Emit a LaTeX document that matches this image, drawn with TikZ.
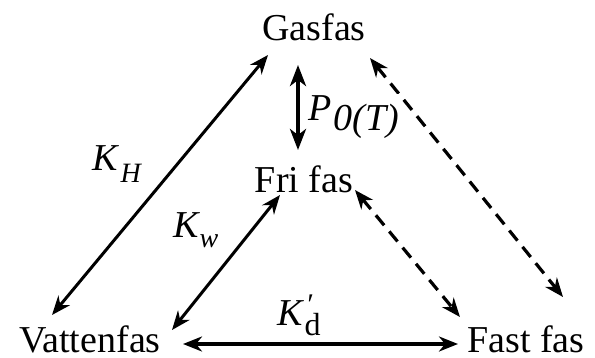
\documentclass[tikz,border=0pt]{standalone}
\usepackage{fontspec}
\setmainfont{Liberation Serif}
\usetikzlibrary{arrows.meta}
\begin{document}
\begin{tikzpicture}[x=1pt,y=-1pt,
  phase/.style={font=\fontsize{38}{40}\selectfont, inner sep=0pt, anchor=base},
  lbl/.style={font=\fontsize{38}{40}\selectfont\itshape, inner sep=0pt, anchor=base west},
  tipA/.tip={Stealth[length=19pt,width=15pt,inset=6pt]},
  tipB/.tip={Stealth[length=21pt,width=16pt,inset=6pt]},
  link/.style={line width=3pt, tipA-tipA},
  hlink/.style={line width=3.8pt, tipA-tipA},
  dlink/.style={line width=3.2pt, tipA-tipA, dash pattern=on 13pt off 8pt},
  vlink/.style={line width=4.2pt, tipB-tipB}
]
\useasboundingbox (0,0) rectangle (595,357);
% phases
\node[phase] (G) at (314,40) {Gasfas};
\node[phase] (F) at (304,192) {Fri fas};
\node[phase] (V) at (90,352) {Vattenfas};
\node[phase] (S) at (526,352) {Fast fas};
% connectors
\draw[link] ([xshift=-38pt,yshift=37pt]V.base) -- ([xshift=-46pt,yshift=-15pt]G.base);
\draw[vlink] ([xshift=-16pt,yshift=-25pt]G.base) -- ([xshift=-6pt,yshift=42pt]F.base);
\draw[link] ([xshift=82pt,yshift=22pt]V.base) -- ([xshift=-24pt,yshift=-3pt]F.base);
\draw[hlink] ([xshift=93pt,yshift=8pt]V.base) -- ([xshift=-68pt,yshift=8pt]S.base);
\draw[dlink] ([xshift=51pt,yshift=2pt]F.base) -- ([xshift=-66pt,yshift=35pt]S.base);
\draw[dlink] ([xshift=56pt,yshift=-18pt]G.base) -- ([xshift=37pt,yshift=55pt]S.base);
% labels
\node[lbl] (KH) at (92,170) {K\hspace{3pt}\raisebox{-12pt}{\fontsize{28}{28}\selectfont H}};
\node[lbl] (Kw) at (173,237) {K\hspace{1pt}\raisebox{-10pt}{\fontsize{28}{28}\selectfont w}};
\node[lbl, fill=white, inner sep=1pt] (P0) at (307,120) {P\hspace{2pt}\raisebox{-10pt}{0(T)}};
\node[lbl] (Kd) at (277,325) {K\rlap{\hspace{3pt}\raisebox{11pt}{\fontsize{30}{30}\selectfont\char"2032}}\hspace{2pt}\raisebox{-10pt}{\upshape\fontsize{32}{32}\selectfont d}};
\end{tikzpicture}
\end{document}
